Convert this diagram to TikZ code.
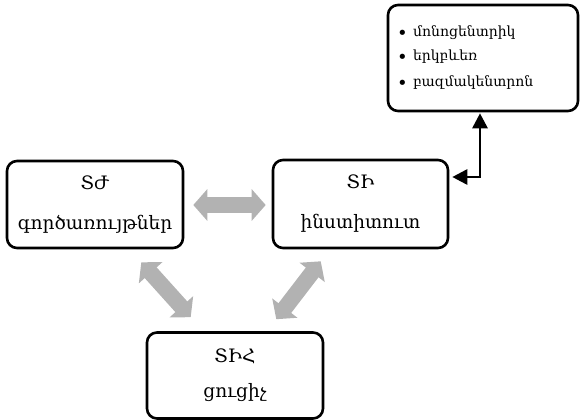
\documentclass[tikz,border=0pt]{standalone}
\usepackage{fontspec}
\setmainfont{DejaVu Serif}
\usetikzlibrary{arrows.meta,positioning}

\newcommand{\bitem}[1]{\makebox[16pt][l]{\raisebox{-2.5pt}{\fontsize{18}{17}\selectfont•}}#1}

\tikzset{
  tbox/.style={draw,line width=2.6pt,rounded corners=10pt,align=center,
    font=\fontsize{18.5}{23}\selectfont,inner sep=0pt},
  graydbl/.style={draw=gray!60,line width=16pt,
    {Triangle[width=31pt,length=14pt]}-{Triangle[width=31pt,length=14pt]}},
  blkarrow/.style={line width=2.8pt,
    {Triangle[width=15pt,length=15pt]}-{Triangle[width=15pt,length=15pt]}}
}

\begin{document}
\begin{tikzpicture}[x=1pt,y=-1pt]

  \useasboundingbox (0,0) rectangle (581,420);

  % boxes
  \node[tbox,minimum width=176pt,minimum height=87pt] (fn) at (95,204.5)
    {ՏԺ\\[17pt]գործառույթներ};
  \node[tbox,minimum width=175pt,minimum height=88pt] (inst) at (360.5,204)
    {ՏԻ\\[17pt]ինստիտուտ};
  \node[tbox,minimum width=176pt,minimum height=86pt] (ind) at (235,375.5)
    {ՏԻՀ\\[12pt]ցուցիչ};
  \node[tbox,minimum height=106pt,text width=172pt,inner xsep=9pt,align=left,
    font=\fontsize{14}{17}\selectfont] (kind) at (483,58)
    {\bitem{մոնոցենտրիկ}\\[7pt]
     \bitem{երկբևեռ}\\[9pt]
     \bitem{բազմակենտրոն}};

  % gray links
  \draw[graydbl] ([xshift=9pt]fn.east |- 0,205) -- ([xshift=-6pt]inst.west |- 0,205);
  \draw[graydbl] ([shift={(-43,13)}]fn.south east) -- ([shift={(45,-14)}]ind.north west);
  \draw[graydbl] ([shift={(49,12)}]inst.south west) -- ([shift={(-48,-12)}]ind.north east);

  % black link
  \draw[blkarrow] ([xshift=-3pt,yshift=-1pt]kind.south) |- ([xshift=3pt,yshift=27pt]inst.east);

\end{tikzpicture}
\end{document}
